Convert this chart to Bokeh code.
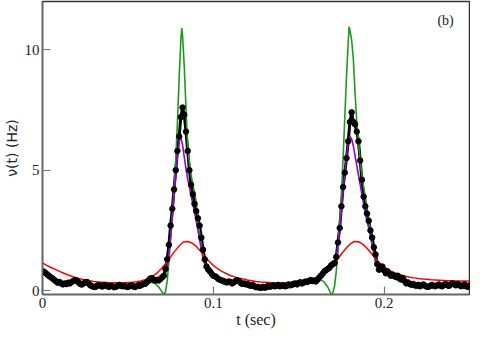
from bokeh.plotting import figure
from bokeh.models import FixedTicker, Label, Range1d
from bokeh.embed import file_html
from bokeh.resources import INLINE

# ---- data ----
t_data = [i / 1000 for i in range(251)]
v_data = [
    0.80, 0.78, 0.72, 0.66, 0.60, 0.55, 0.50, 0.44, 0.38, 0.33,
    0.36, 0.30, 0.26, 0.30, 0.27, 0.33, 0.30, 0.36, 0.40, 0.44,
    0.42, 0.35, 0.28, 0.25, 0.30, 0.34, 0.36, 0.30, 0.22, 0.18,
    0.16, 0.15, 0.20, 0.24, 0.20, 0.17, 0.22, 0.22, 0.18, 0.16,
    0.20, 0.18, 0.14, 0.16, 0.20, 0.24, 0.20, 0.18, 0.20, 0.17,
    0.15, 0.19, 0.22, 0.18, 0.15, 0.18, 0.22, 0.20, 0.24, 0.27,
    0.28, 0.34, 0.42, 0.50, 0.52, 0.46, 0.42, 0.45, 0.42, 0.48,
    0.55, 0.62, 0.90, 1.30, 1.90, 2.70, 3.40, 4.20, 5.00, 5.80,
    6.40, 7.20, 7.60, 7.30, 6.60, 5.80, 5.00, 4.40, 4.00, 3.60,
    3.30, 3.00, 2.70, 2.20, 1.70, 1.30, 1.00, 0.88, 0.80, 0.70,
    0.62, 0.60, 0.55, 0.48, 0.45, 0.42, 0.40, 0.36, 0.34, 0.38,
    0.36, 0.30, 0.34, 0.40, 0.44, 0.40, 0.32, 0.28, 0.30, 0.26,
    0.28, 0.22, 0.20, 0.24, 0.18, 0.14, 0.16, 0.12, 0.12, 0.16,
    0.12, 0.14, 0.20, 0.16, 0.18, 0.22, 0.18, 0.20, 0.24, 0.18,
    0.20, 0.22, 0.18, 0.20, 0.26, 0.22, 0.24, 0.28, 0.30, 0.26,
    0.32, 0.35, 0.30, 0.34, 0.38, 0.36, 0.40, 0.44, 0.40, 0.42,
    0.38, 0.45, 0.55, 0.62, 0.70, 0.80, 0.85, 0.90, 0.95, 1.05,
    1.10, 1.15, 1.40, 2.00, 2.60, 3.50, 4.30, 4.90, 5.50, 6.20,
    7.00, 7.40, 7.00, 6.90, 6.60, 6.20, 5.40, 4.60, 3.90, 3.50,
    3.20, 2.90, 2.50, 2.20, 1.80, 1.50, 1.10, 0.87, 0.95, 1.00,
    0.85, 0.72, 0.80, 0.70, 0.62, 0.66, 0.60, 0.56, 0.62, 0.50,
    0.46, 0.52, 0.40, 0.30, 0.34, 0.28, 0.24, 0.28, 0.22, 0.20,
    0.24, 0.18, 0.22, 0.26, 0.20, 0.16, 0.16, 0.20, 0.24, 0.20,
    0.18, 0.22, 0.26, 0.20, 0.18, 0.24, 0.28, 0.22, 0.20, 0.26,
    0.30, 0.26, 0.22, 0.28, 0.24, 0.18, 0.20, 0.26, 0.18, 0.16,
    0.22,
]

t_green = [
    0.000, 0.005, 0.010, 0.015, 0.020, 0.025, 0.030, 0.035, 0.040, 0.045,
    0.050, 0.055, 0.060, 0.063, 0.066, 0.068, 0.0695, 0.071, 0.072, 0.073,
    0.074, 0.075, 0.076, 0.077, 0.078, 0.079, 0.080, 0.081, 0.0815, 0.082,
    0.083, 0.084, 0.085, 0.086, 0.087, 0.088, 0.089, 0.090, 0.091, 0.092,
    0.093, 0.094, 0.095, 0.096, 0.098, 0.100, 0.105, 0.110, 0.115, 0.120,
    0.125, 0.130, 0.135, 0.140, 0.145, 0.150, 0.155, 0.160, 0.163, 0.165,
    0.167, 0.169, 0.170, 0.171, 0.172, 0.173, 0.174, 0.175, 0.176, 0.177,
    0.178, 0.179, 0.1795, 0.180, 0.181, 0.182, 0.183, 0.184, 0.185, 0.186,
    0.187, 0.188, 0.189, 0.190, 0.191, 0.192, 0.193, 0.194, 0.195, 0.196,
    0.198, 0.200, 0.205, 0.210, 0.215, 0.220, 0.225, 0.230, 0.235, 0.240,
    0.245, 0.250,
]
v_green = [
    0.75, 0.55, 0.38, 0.32, 0.35, 0.32, 0.22, 0.20, 0.19, 0.20,
    0.19, 0.20, 0.26, 0.35, 0.30, 0.15, 0.00, -0.15, -0.05, 0.40,
    1.20, 2.10, 3.10, 4.20, 5.40, 7.00, 8.80, 10.40, 10.90, 10.60,
    9.30, 7.60, 6.00, 5.30, 4.80, 4.40, 4.10, 3.70, 3.00, 2.40,
    1.90, 1.45, 1.10, 0.90, 0.72, 0.60, 0.44, 0.36, 0.36, 0.26,
    0.17, 0.15, 0.18, 0.20, 0.24, 0.30, 0.37, 0.40, 0.45, 0.35,
    0.15, -0.15, -0.10, 0.20, 0.80, 1.70, 2.80, 4.00, 5.50, 7.20,
    8.90, 10.30, 10.95, 10.80, 10.40, 9.60, 8.20, 7.00, 6.20, 5.40,
    4.80, 4.30, 3.90, 3.40, 2.90, 2.50, 2.00, 1.50, 1.15, 0.95,
    0.80, 0.75, 0.60, 0.45, 0.30, 0.22, 0.19, 0.20, 0.22, 0.25,
    0.22, 0.20,
]

t_purple = [
    0.000, 0.005, 0.010, 0.015, 0.020, 0.025, 0.030, 0.035, 0.040, 0.045,
    0.050, 0.055, 0.060, 0.063, 0.066, 0.069, 0.071, 0.072, 0.073, 0.074,
    0.075, 0.076, 0.077, 0.078, 0.079, 0.080, 0.0805, 0.081, 0.082, 0.083,
    0.084, 0.085, 0.086, 0.087, 0.088, 0.089, 0.090, 0.091, 0.092, 0.093,
    0.094, 0.095, 0.096, 0.098, 0.100, 0.105, 0.110, 0.115, 0.120, 0.125,
    0.130, 0.135, 0.140, 0.145, 0.150, 0.155, 0.160, 0.163, 0.166, 0.169,
    0.171, 0.172, 0.173, 0.174, 0.175, 0.176, 0.177, 0.178, 0.179, 0.180,
    0.181, 0.182, 0.183, 0.184, 0.185, 0.186, 0.187, 0.188, 0.189, 0.190,
    0.191, 0.192, 0.193, 0.194, 0.195, 0.196, 0.198, 0.200, 0.205, 0.210,
    0.215, 0.220, 0.225, 0.230, 0.235, 0.240, 0.245, 0.250,
]
v_purple = [
    0.75, 0.55, 0.38, 0.32, 0.36, 0.32, 0.22, 0.20, 0.19, 0.20,
    0.19, 0.20, 0.28, 0.42, 0.45, 0.45, 0.55, 0.70, 1.00, 1.50,
    2.20, 3.00, 3.90, 4.80, 5.60, 6.20, 6.40, 6.35, 6.05, 5.55,
    5.05, 4.65, 4.30, 3.95, 3.60, 3.25, 2.90, 2.50, 2.10, 1.70,
    1.35, 1.10, 0.92, 0.75, 0.62, 0.45, 0.36, 0.38, 0.26, 0.17,
    0.14, 0.18, 0.20, 0.24, 0.30, 0.37, 0.42, 0.60, 0.85, 1.00,
    1.15, 1.40, 1.90, 2.50, 3.30, 4.10, 4.90, 5.60, 6.10, 6.40,
    6.30, 6.00, 5.60, 5.20, 4.80, 4.40, 4.00, 3.60, 3.20, 2.90,
    2.60, 2.25, 1.90, 1.55, 1.25, 1.00, 0.85, 0.80, 0.62, 0.47,
    0.30, 0.22, 0.19, 0.20, 0.22, 0.25, 0.22, 0.20,
]

t_red = [i * 0.0025 for i in range(101)]
v_red = [
    1.15, 1.05, 0.96, 0.88, 0.80, 0.72, 0.65, 0.59, 0.53, 0.48,
    0.44, 0.41, 0.38, 0.36, 0.35, 0.34, 0.33, 0.33, 0.33, 0.33,
    0.34, 0.35, 0.37, 0.40, 0.45, 0.52, 0.62, 0.76, 0.94, 1.16,
    1.40, 1.64, 1.85, 2.02, 2.04, 1.98, 1.84, 1.64, 1.42, 1.22,
    1.05, 0.91, 0.80, 0.71, 0.63, 0.57, 0.52, 0.48, 0.44, 0.41,
    0.38, 0.36, 0.35, 0.34, 0.33, 0.33, 0.33, 0.33, 0.34, 0.35,
    0.36, 0.38, 0.41, 0.45, 0.52, 0.60, 0.71, 0.86, 1.05, 1.28,
    1.52, 1.74, 1.93, 2.04, 2.03, 1.93, 1.76, 1.55, 1.33, 1.14,
    0.98, 0.86, 0.78, 0.70, 0.65, 0.60, 0.56, 0.53, 0.50, 0.48,
    0.47, 0.45, 0.44, 0.43, 0.42, 0.41, 0.41, 0.40, 0.40, 0.40,
    0.40,
]

x_ticks = [0, 0.1, 0.2]
x_tick_labels = {0: "0", 0.1: "0.1", 0.2: "0.2"}
y_ticks = [0, 5, 10]

SERIF = "Times New Roman, Liberation Serif, serif"

p = figure(width=470, height=330, output_backend="svg", toolbar_location=None,
           x_range=Range1d(0, 0.25), y_range=Range1d(-0.16, 12.0),
           min_border_left=30, min_border_right=1, min_border_top=1,
           min_border_bottom=20)
p.grid.visible = False
p.outline_line_color = "#333333"
p.outline_line_width = 1.5
p.background_fill_color = "white"
p.border_fill_color = "white"

for ax in (p.xaxis[0], p.yaxis[0]):
    ax.axis_line_color = "#666666"
    ax.axis_line_width = 1.5
    ax.major_tick_in = 8
    ax.major_tick_out = 0
    ax.major_tick_line_color = "#777777"
    ax.major_tick_line_width = 1.2
    ax.minor_tick_line_color = None
    ax.major_label_text_font = SERIF
    ax.major_label_text_font_size = "15px"
    ax.major_label_text_color = "#222222"
    ax.major_label_standoff = 3

p.xaxis.ticker = FixedTicker(ticks=x_ticks)
p.xaxis.major_label_overrides = x_tick_labels
p.yaxis.ticker = FixedTicker(ticks=y_ticks)

p.xaxis.axis_label = "t (sec)"
p.xaxis.axis_label_text_font = SERIF
p.xaxis.axis_label_text_font_size = "16px"
p.xaxis.axis_label_text_font_style = "normal"
p.xaxis.axis_label_text_color = "#222222"
p.xaxis.axis_label_standoff = 0

p.yaxis.axis_label = "\u03bd(t) (Hz)"
p.yaxis.axis_label_text_font = "DejaVu Sans"
p.yaxis.axis_label_text_font_size = "14px"
p.yaxis.axis_label_text_font_style = "normal"
p.yaxis.axis_label_text_color = "#222222"
p.yaxis.axis_label_standoff = 2

p.line(t_data, v_data, line_color="black", line_width=3)
p.line(t_green, v_green, line_color="#1f9a1f", line_width=1.6)
p.line(t_purple, v_purple, line_color="#9400d3", line_width=1.6)
p.line(t_red, v_red, line_color="#ff0000", line_width=1.5)
p.scatter(t_data, v_data, size=5.5, fill_color="black", line_color="black")

p.add_layout(Label(x=0.236, y=11.2, text="(b)", text_font=SERIF,
                   text_font_size="14px", text_align="center",
                   text_baseline="middle", text_color="#222222"))

open("out.html", "w").write(file_html(p, INLINE))
